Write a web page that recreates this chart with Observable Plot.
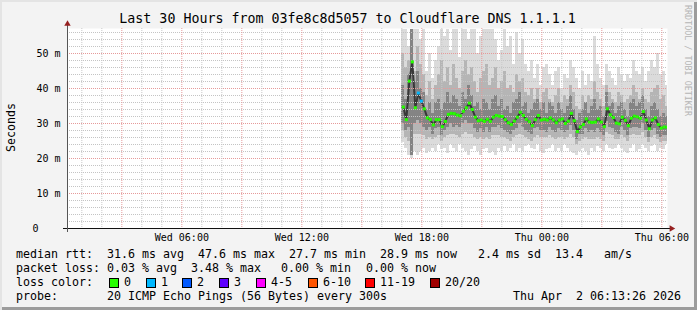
<!DOCTYPE html>
<html><head><meta charset="utf-8">
<script src="https://cdn.jsdelivr.net/npm/d3@7"></script>
<script src="https://cdn.jsdelivr.net/npm/@observablehq/plot@0.6"></script>
<style>
html,body{margin:0;padding:0;background:#f3f3f3;}
#chart{position:relative;width:697px;height:310px;background:#f3f3f3;overflow:hidden;font-family:"DejaVu Sans Mono",monospace;color:#000;box-shadow:inset 2px 2px 0 #e4e4e4, inset -3px -3px 0 #9c9c9c;}
#chart svg{position:absolute;left:0;top:0;}
.t{position:absolute;white-space:pre;font-size:11.63px;line-height:14px;}
.box{position:absolute;width:8px;height:8px;border:1px solid #000;}
#title{position:absolute;left:0;top:11px;width:695px;text-align:center;font-size:13.3px;line-height:16px;white-space:pre;}
#ylab{position:absolute;left:4px;top:103px;writing-mode:vertical-rl;transform:rotate(180deg);font-size:11.6px;line-height:14px;}
#wm{position:absolute;left:683px;top:5px;writing-mode:vertical-rl;font-size:8.4px;line-height:10px;color:#b5b5b5;white-space:pre;}
</style></head>
<body>
<div id="chart">
  <div id="title">Last 30 Hours from 03fe8c8d5057 to Cloudflare DNS 1.1.1.1</div>
  <div id="ylab">Seconds</div>
  <div id="wm">RRDTOOL / TOBI OETIKER</div>
</div>
<script>
// ---------- data ----------
const frameStart = Date.UTC(2026, 3, 1, 0, 17);   // Wed 00:17
const frameEnd   = Date.UTC(2026, 3, 2, 6, 17);   // Thu 06:17
const sampleStart = Date.UTC(2026, 3, 1, 17, 0);  // first sample (Wed 17:00)
const stepMinutes = 9;

const medianRtt = [34.7,31.1,42.1,47.6,34.5,38.7,36.4,34.2,31.6,31.1,
 29.6,31.1,31.1,29.1,30.6,32.6,32.9,32.8,32.4,32.2,
 33.5,34.5,35.8,34.0,31.8,30.8,31.0,30.6,31.2,30.6,
 31.8,32.3,32.1,32.0,31.1,30.2,29.7,30.7,31.8,33.2,
 32.3,31.2,30.5,29.4,31.1,32.3,31.0,31.2,31.0,31.6,
 31.0,30.2,31.0,31.3,30.0,30.7,32.9,30.8,27.7,29.0,
 29.7,31.3,30.4,30.3,30.4,31.3,30.4,29.1,34.2,32.5,
 31.7,30.1,29.9,31.8,30.9,29.4,31.5,32.1,31.9,31.5,
 33.4,31.0,28.5,31.0,31.6,29.7,28.7,29.0,28.9];

const maxPing = [57,57,52,57,57,57,54,57,45,50,
 43,48,52,57,55,57,51,57,57,49,
 57,57,54,57,57,50,55,57,57,57,
 57,54,48,51,57,52,55,47,56,50,
 54,47,45,48,43,47,41,46,47,44,
 41,45,46,40,44,43,48,46,43,40,
 45,41,44,42,55,47,43,41,47,45,
 43,41,46,44,42,44,43,48,45,44,
 46,42,45,48,46,50,44,45,41];

const minPing = [24.5,23,21,20,22,21,22,23,21.5,22,
 23,22,24,22.5,23,21.5,24,23,22,24,
 23,22,21,22.5,23.5,22,21,22.5,23,21.5,
 22,21,23,22,23.5,22,23,24,22,23,
 22,23.5,24,23,22.5,24,22,21.5,22.5,23,
 24,22,23,22,24,23,22,21.5,21,22,
 23,22,21,23,22,23.5,23,22,24,23,
 22.5,23,24,23,22,21.5,23,24,22,22.5,
 24,23,22,23.5,24,22,23,22.5,24];

const outerHigh = [50,46,48,57,45,52,47,44,38,42,
 37,41,44,48,42,46,41,47,43,40,
 45,48,44,46,42,39,43,45,47,41,
 43,46,40,42,45,40,41,39,44,42,
 43,39,38,40,37,40,36,39,40,37,
 36,38,40,36,38,37,41,39,35,34,
 38,36,38,37,42,39,37,35,41,39,
 37,36,39,38,36,37,38,41,39,37,
 40,37,36,39,40,41,37,38,35];

const outerLow = [28,26,25,21,27,27,27,26.5,25.5,26,
 25.5,26,26.5,25,26,26.5,27,27,26.5,26,
 27,27.5,27,27,26,25.5,26,25.5,26,25.5,
 26.5,26.5,26.5,26,26,25.5,25,26,26.5,27,
 26.5,26,25.5,25,26,26.5,26,26,26,26.5,
 26,25.5,26,26,25.5,26,27,26,24,25,
 25.5,26,25.5,25.5,25.5,26,25.5,25,27.5,27,
 26.5,25.5,25.5,26.5,26,25,26.5,27,26.5,26.5,
 27.5,26,24.5,26,26.5,25.5,24.5,25,25];

const innerHigh = [41,37,44,57,42,45,40,39,34,36,
 33,36,37,34,36,39,36,38,37,35,
 39,37,41,38,35,36,34,37,36,34,
 37,38,35,37,34,35,33,36,37,39,
 35,36,33,34,36,37,34,36,33,36,
 35,33,36,34,33,35,38,34,31,33,
 34,36,33,35,37,34,35,32,39,35,
 36,33,35,36,34,32,36,37,35,36,
 38,34,32,35,36,34,32,33,32];

const innerLow = [30,28,29,21,30,31,30,29,28,29,
 27,28.5,29,26.5,28,29,30,29,29.5,29,
 30,31,30,30,28.5,27.5,28.5,27.5,29,27.5,
 29,29,29.5,28.5,28,27.5,27,28,28.5,30,
 29,28,27.5,27,28.5,29,28,28,27.5,29,
 28,27.5,28.5,28,27.5,28,29.5,28,25.5,27,
 27,28.5,27.5,28,27.5,28.5,27.5,26.5,30.5,29,
 28.5,27.5,27,29,28,26.5,28.5,29,29,28.5,
 30,28,26,28,28.5,27,26,26.5,26.5];

const lostPings = [0,0,0,0,0,1,1,0,0,0, 0,0,0,0,0,0,0,0,0,0,
 0,0,0,0,0,0,0,0,0,0, 0,0,0,0,0,0,0,0,0,0,
 0,0,0,0,0,0,0,0,0,0, 0,0,0,0,0,0,0,0,0,0,
 0,0,0,0,0,0,0,0,0,0, 0,0,0,0,0,0,0,0,0,0,
 0,0,0,0,0,0,0,0,0];

const lossLabels = ["0","1","2","3","4-5","6-10","11-19","20/20"];
const lossColors = ["#26ff00","#00b8ff","#0059ff","#5e00ff","#ff00ff","#ff5500","#ff0000","#a00000"];
const lossUpper  = [0,1,2,3,5,10,19,20];

const yTickValues = [0,10,20,30,40,50];
const yTickLabels = ["0","10 m","20 m","30 m","40 m","50 m"];
const xTickTimes = [Date.UTC(2026,3,1,6), Date.UTC(2026,3,1,12), Date.UTC(2026,3,1,18), Date.UTC(2026,3,2,0), Date.UTC(2026,3,2,6)];
const xTickLabels = ["Wed 06:00","Wed 12:00","Wed 18:00","Thu 00:00","Thu 06:00"];

const statsRtt = [["median rtt:",16],["31.6 ms avg",107],["47.6 ms max",198],["27.7 ms min",289],["28.9 ms now",380],["2.4 ms sd",478],["13.4",555],["am/s",604]];
const statsLoss = [["packet loss:",16],["0.03 % avg",107],["3.48 % max",191],["0.00 % min",281],["0.00 % now",366]];
const lossBoxX = [109,146,182,219,256,308,365,430];
const probeText = "20 ICMP Echo Pings (56 Bytes) every 300s";
const stampText = "Thu Apr  2 06:13:26 2026";

// ---------- build ----------
const M = 60000;
const samples = medianRtt.map((m, i) => {
  const lost = lostPings[i];
  const bucket = lossUpper.findIndex(u => lost <= u);
  return {
    t1: new Date(sampleStart + i * stepMinutes * M),
    t2: new Date(sampleStart + (i + 1) * stepMinutes * M),
    tm: new Date(sampleStart + (i + 0.5) * stepMinutes * M),
    median: m, min: minPing[i], max: maxPing[i],
    lo2: outerLow[i], hi2: outerHigh[i], lo3: innerLow[i], hi3: innerHigh[i],
    color: lossColors[bucket]
  };
});

const yMax = 200 / 3.5;
const minorY = d3.range(2, 57, 2).filter(v => v % 10 !== 0);
const majorY = yTickValues.filter(v => v > 0);
const hours = d3.utcHour.range(new Date(frameStart), new Date(frameEnd));
const minorX = hours.filter(d => d.getUTCHours() % 3 !== 0);
const majorX = hours.filter(d => d.getUTCHours() % 3 === 0);

const yTicks = yTickValues.map((v, i) => ({v, label: yTickLabels[i]}));
const xTicks = xTickTimes.map((t, i) => ({t: new Date(t), label: xTickLabels[i]}));

const plot = Plot.plot({
  width: 697, height: 245,
  marginLeft: 67, marginRight: 30, marginTop: 28, marginBottom: 17,
  x: {type: "utc", domain: [new Date(frameStart), new Date(frameEnd)], axis: null},
  y: {domain: [0, yMax], axis: null},
  color: {type: "identity"},
  style: {background: "transparent", fontFamily: "DejaVu Sans Mono", fontSize: "10px", color: "#000", overflow: "visible"},
  marks: [
    Plot.frame({fill: "#fff", stroke: null}),
    Plot.rect(samples, {x1: "t1", x2: "t2", y1: "min", y2: "max", fill: "#dbdbdb", clip: true, shapeRendering: "crispEdges"}),
    Plot.rect(samples, {x1: "t1", x2: "t2", y1: "lo2", y2: "hi2", fill: "#b5b5b5", clip: true, shapeRendering: "crispEdges"}),
    Plot.rect(samples, {x1: "t1", x2: "t2", y1: "lo3", y2: "hi3", fill: "#848484", clip: true, shapeRendering: "crispEdges"}),
    Plot.line(samples, {x: "tm", y: "median", stroke: "#383838", strokeWidth: 2, clip: true}),
    Plot.ruleY(minorY, {stroke: "#c4c4c4", strokeDasharray: "1,1"}),
    Plot.ruleY(majorY, {stroke: "#e69a9a", strokeDasharray: "1,1"}),
    Plot.ruleX(minorX, {stroke: "#c8c8c8", strokeDasharray: "1,1"}),
    Plot.ruleX(majorX, {stroke: "#e69a9a", strokeDasharray: "1,1"}),
    // axes
    Plot.ruleY([0], {x1: new Date(frameStart - 12 * M), x2: new Date(frameEnd + 9 * M), stroke: "#111"}),
    Plot.ruleX([new Date(frameStart)], {y1: -4 / 3.5, y2: yMax + 1, stroke: "#555"}),
    Plot.dot([0], {x: new Date(frameEnd + 12 * M), y: 0, symbol: "triangle", r: 2.4, rotate: 90, fill: "#962020", stroke: null}),
    Plot.dot([0], {x: new Date(frameStart), y: yMax + 4.5 / 3.5, symbol: "triangle", r: 2.4, fill: "#962020", stroke: null}),
    // tick labels
    Plot.text(yTicks.filter(d => d.v > 0), {y: "v", text: "label", frameAnchor: "left", textAnchor: "end", dx: -7, fontSize: 10}),
    Plot.text(yTicks.filter(d => d.v === 0), {y: "v", text: "label", frameAnchor: "left", textAnchor: "end", dx: -29, fontSize: 10}),
    Plot.text(xTicks, {x: "t", text: "label", frameAnchor: "bottom", dy: 9, lineAnchor: "middle", fontSize: 10}),
    // medians
    Plot.dot(samples, {x: "tm", y: "median", symbol: "square", r: 1.7, fill: "color", stroke: null, clip: true})
  ]
});
const chart = document.getElementById("chart");
chart.appendChild(plot);

function addText(txt, x, yc, anchorEnd) {
  const s = document.createElement("div");
  s.className = "t";
  s.textContent = txt;
  s.style.top = (yc - 7) + "px";
  if (anchorEnd) { s.style.right = (697 - x) + "px"; } else { s.style.left = x + "px"; }
  chart.appendChild(s);
}
statsRtt.forEach(([t, x]) => addText(t, x, 254.3));
statsLoss.forEach(([t, x]) => addText(t, x, 268.3));
addText("loss color:", 16, 282.3);
lossLabels.forEach((lab, i) => {
  const b = document.createElement("div");
  b.className = "box";
  b.style.left = lossBoxX[i] + "px";
  b.style.top = "277.5px";
  b.style.background = lossColors[i];
  chart.appendChild(b);
  addText(lab, lossBoxX[i] + 15, 282.3);
});
addText("probe:", 16, 296.3);
addText(probeText, 107, 296.3);
addText(stampText, 681, 296.3, true);
</script>
</body></html>
